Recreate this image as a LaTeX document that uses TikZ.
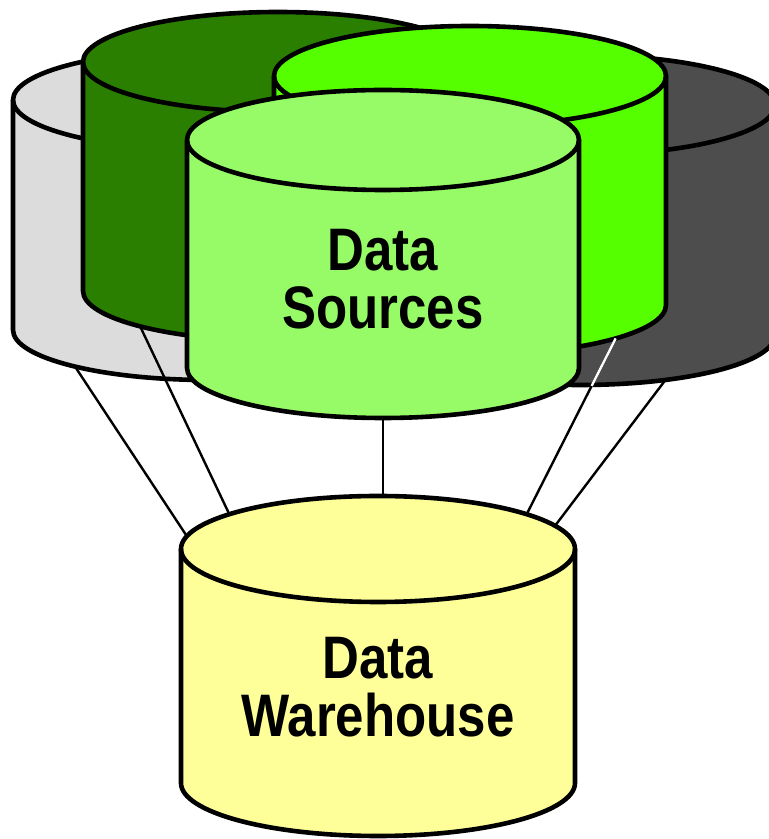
\documentclass[tikz,border=0pt]{standalone}
\usepackage{fontspec}
\usepackage{tikz}
\usetikzlibrary{calc}

\newfontfamily\dbfont{Liberation Sans}[FakeStretch=0.85]

\definecolor{drumgray}{HTML}{DCDCDC}
\definecolor{drumdark}{HTML}{4D4D4D}
\definecolor{forest}{HTML}{2A7F00}
\definecolor{lime}{HTML}{55FF00}
\definecolor{mint}{HTML}{96FB66}
\definecolor{cream}{HTML}{FFFF99}

\tikzset{
  % database drum: #1 = x radius, #2 = y radius, #3 = height (pt)
  pics/drum/.style n args={3}{code={
    \path[pic actions] (-#1pt,0) -- (-#1pt,-#3pt)
      arc[start angle=180,end angle=360,x radius=#1pt,y radius=#2pt]
      -- (#1pt,0)
      arc[start angle=0,end angle=180,x radius=#1pt,y radius=#2pt] -- cycle;
    \path[pic actions,fill=none] (-#1pt,0)
      arc[start angle=180,end angle=360,x radius=#1pt,y radius=#2pt];
    \coordinate (-top) at (0,0);
    \coordinate (-bot) at (0,-#3pt);
  }},
  drumline/.style={draw=black, line width=4.6pt, line join=round},
  link/.style={draw=black, line width=2.4pt},
  dblabel/.style={align=center, inner sep=0pt, font=\dbfont\bfseries\fontsize{60}{58}\selectfont}
}

\begin{document}
\begin{tikzpicture}[x=1pt,y=1pt]
\useasboundingbox (0,0) rectangle (769,839);
\clip (0,0) rectangle (769,839);

% source drums, back to front
\pic[drumline, fill=drumgray] (gray) at (208,739) {drum={195}{50}{230}};
\pic[drumline, fill=drumdark] (dark) at (580,734) {drum={195}{50}{230}};
\pic[drumline, fill=forest] (forest) at (278,777) {drum={195}{50}{229}};
\pic[drumline, fill=lime] (lime) at (470,763) {drum={196}{50}{229}};
\pic[drumline, fill=mint] (mint) at (383,699) {drum={196}{50}{228}};

% warehouse drum
\pic[drumline, fill=cream] (ware) at (378,290) {drum={197}{53}{234}};

\node[dblabel](src) at (383,560) {Data\\Sources};
\node[dblabel](dw) at (378,152) {Data\\Warehouse};

% ends of the links on the drum rims
\coordinate (s1) at ([shift={(227:195pt and 50pt)}]gray-bot);
\coordinate (s2) at ([shift={(225:195pt and 50pt)}]forest-bot);
\coordinate (s3) at ([shift={(270:196pt and 50pt)}]mint-bot);
\coordinate (s4) at ([shift={(318:196pt and 50pt)}]lime-bot);
\coordinate (s5) at ([shift={(296:195pt and 50pt)}]dark-bot);

\coordinate (w1) at ([shift={(166:197pt and 53pt)}]ware-top);
\coordinate (w2) at ([shift={(139:197pt and 53pt)}]ware-top);
\coordinate (w3) at ([shift={(90:197pt and 53pt)}]ware-top);
\coordinate (w4) at ([shift={(41:197pt and 53pt)}]ware-top);
\coordinate (w5) at ([shift={(26:197pt and 53pt)}]ware-top);

\path[link] (s1) edge (w1);
\path[link] (s2) edge (w2);
\path[link] (s3) edge (s3 |- w3);
\path[link] (s4) edge (w4);
\path[link, draw=white] (s4) edge ($(s4)!0.27!(w4)$);
\path[link] (s5) edge (w5);
\end{tikzpicture}
\end{document}
